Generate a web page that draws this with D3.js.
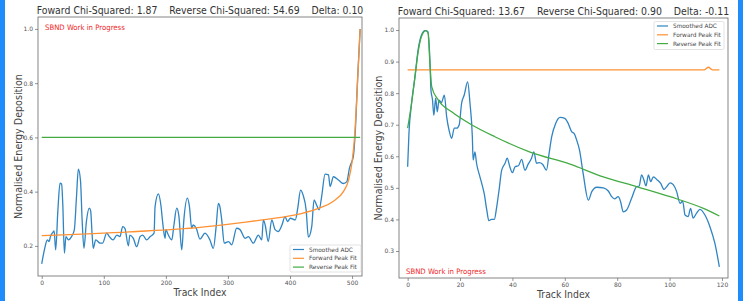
<!DOCTYPE html>
<html>
<head>
<meta charset="utf-8">
<script src="https://cdn.jsdelivr.net/npm/d3@7"></script>
<style>
  body { margin: 0; background: white; }
  text { font-family: "DejaVu Sans", sans-serif; }
</style>
</head>
<body>
<div id="wykres"></div>
<script>

// ---- left panel (long track) ----
var adc_left = [[0,0.134],[5,0.193],[9,0.222],[12,0.216],[14,0.234],[18,0.25],[20,0.255],[22.5,0.185],[26,0.33],[29.5,0.431],[32,0.428],[34,0.35],[36.5,0.173],[39,0.234],[43,0.222],[48,0.234],[52.5,0.259],[56,0.38],[59,0.483],[62.5,0.44],[65,0.3],[68,0.191],[72,0.29],[76.7,0.339],[78.8,0.33],[81,0.25],[83,0.191],[87,0.222],[94,0.21],[98,0.21],[104.7,0.247],[109,0.234],[115,0.222],[121,0.24],[126,0.234],[130.5,0.271],[134,0.265],[139.6,0.2],[142,0.24],[147.6,0.228],[153,0.197],[158.5,0.234],[162.7,0.24],[169,0.222],[174.5,0.234],[181,0.247],[182.6,0.345],[188,0.392],[192,0.35],[195,0.284],[198.7,0.228],[200,0.26],[204,0.24],[209.5,0.222],[213,0.277],[217.5,0.339],[221,0.31],[225.6,0.185],[229,0.296],[234.6,0.376],[238,0.345],[241.6,0.265],[244,0.277],[249,0.265],[255,0.225],[263,0.247],[271,0.222],[276.5,0.191],[281,0.271],[284.6,0.357],[287,0.345],[290,0.296],[294,0.21],[301,0.216],[306,0.204],[314,0.265],[319.5,0.26],[327.6,0.228],[333,0.234],[341,0.21],[349,0.24],[354.5,0.222],[357,0.296],[360,0.277],[365,0.216],[370.6,0.296],[376,0.26],[381,0.253],[387,0.277],[392,0.308],[396,0.29],[400.6,0.302],[408.6,0.296],[412.5,0.339],[417,0.406],[421,0.388],[426,0.333],[429.6,0.232],[435,0.271],[438.8,0.37],[443,0.35],[447,0.333],[451,0.382],[456.5,0.465],[462,0.462],[464.6,0.419],[470,0.455],[478,0.443],[486,0.43],[491.6,0.437],[495.7,0.486],[499.5,0.51],[502,0.529],[505,0.615],[509,0.82],[513,1.0]];
var fwd_left = [[0,0.238],[142,0.252],[255,0.268],[309,0.282],[362,0.298],[416,0.318],[448,0.34],[470,0.365],[486,0.4],[494,0.44],[500,0.51],[504,0.6],[507,0.72],[510,0.86],[513,1.0]];
var rev_left = [[0,0.6],[513,0.6]];
var xticks_left = [0, 100, 200, 300, 400, 500];
var yticks_left = [0.2, 0.4, 0.6, 0.8, 1.0];
var title_left = "Foward Chi-Squared: 1.87    Reverse Chi-Squared: 54.69    Delta: 0.10";

// ---- right panel (short track) ----
var adc_right = [[0,0.567],[0.5,0.673],[1.5,0.768],[2.8,0.852],[4,0.937],[5.3,0.984],[6.6,0.998],[7.7,0.995],[8.5,0.905],[8.9,0.81],[9.5,0.778],[10,0.73],[10.7,0.784],[11.3,0.741],[12,0.778],[12.9,0.77],[14,0.794],[14.9,0.725],[15.8,0.683],[16.8,0.657],[17.8,0.689],[18.7,0.689],[19.7,0.7],[20.6,0.768],[21.6,0.794],[22.9,0.836],[23.8,0.768],[24.7,0.662],[25,0.588],[25.7,0.614],[26.3,0.578],[27.6,0.535],[28.6,0.504],[29.2,0.483],[30.2,0.43],[31,0.396],[32,0.4],[33.1,0.4],[34,0.44],[34.9,0.493],[35.9,0.556],[37.2,0.578],[38,0.594],[39,0.567],[40,0.548],[41,0.567],[42.3,0.57],[43.5,0.59],[44.8,0.556],[46,0.575],[47.3,0.594],[48.2,0.614],[49.2,0.578],[50.2,0.58],[51.5,0.575],[53,0.556],[54,0.609],[55,0.662],[56.5,0.704],[58.2,0.723],[60,0.72],[61.3,0.704],[62.6,0.678],[63.6,0.672],[64.5,0.652],[65.6,0.62],[67,0.546],[69,0.461],[70.3,0.488],[72.2,0.502],[74.7,0.5],[76.6,0.49],[77.9,0.472],[79,0.465],[80.4,0.472],[81.3,0.456],[82.3,0.424],[83.6,0.43],[85.5,0.467],[87.4,0.504],[88.4,0.506],[89.3,0.541],[90.2,0.525],[91,0.506],[91.9,0.541],[92.8,0.52],[93.8,0.535],[95.3,0.525],[96.6,0.514],[97.9,0.495],[98.9,0.504],[100.2,0.516],[101.4,0.51],[102.7,0.488],[104,0.451],[105,0.458],[105.9,0.414],[107.1,0.409],[108,0.435],[109,0.404],[110.3,0.42],[111.6,0.432],[113.5,0.414],[115.4,0.377],[117.3,0.324],[119,0.25]];
var fwd_right = [[0,0.874],[113.3,0.874],[114.8,0.882],[116.3,0.874],[119,0.874]];
var rev_right = [[0,0.689],[1.5,0.768],[2.8,0.852],[4,0.93],[5.3,0.98],[7,0.998],[7.8,0.99],[8.5,0.894],[9.2,0.82],[11.7,0.778],[16.8,0.741],[24.4,0.7],[33.3,0.662],[46.5,0.614],[62,0.575],[74.7,0.535],[87.4,0.504],[100.2,0.472],[112.9,0.435],[119,0.411]];
var xticks_right = [0, 20, 40, 60, 80, 100, 120];
var yticks_right = [0.3, 0.4, 0.5, 0.6, 0.7, 0.8, 0.9, 1.0];
var title_right = "Foward Chi-Squared: 13.67    Reverse Chi-Squared: 0.90    Delta: -0.11";

var legend_names = ["Smoothed ADC", "Forward Peak Fit", "Reverse Peak Fit"];
var colors = ["#2f84c2", "#ff9133", "#43ab43"];

var svg = d3.select("#wykres")
  .append("svg")
  .attr("width", 743)
  .attr("height", 301)
  .style("background", "white");

// blue edges of the slide
svg.append("rect").attr("x", 0).attr("y", 0).attr("width", 5).attr("height", 301).attr("fill", "#1e8cfa");
svg.append("rect").attr("x", 738).attr("y", 0).attr("width", 5).attr("height", 301).attr("fill", "#1e8cfa");

// squeeze a text horizontally so it covers "len" pixels (the source figure is narrower than DejaVu)
function fitText(t, x, y, len, rot) {
  var w = t.node().getComputedTextLength();
  var s = len / w;
  t.attr("x", 0).attr("y", 0)
    .attr("transform", "translate(" + x + "," + y + ")" + (rot ? "rotate(" + rot + ")" : "") + "scale(" + s + ",1)");
}

function panel(p) {
  var g = svg.append("g");

  var xscale = d3.scaleLinear().domain(p.xdom).range([p.left, p.right]);
  var yscale = d3.scaleLinear().domain(p.ydom).range([p.bottom, p.top]);

  var xAxis = g.append("g")
    .attr("transform", "translate(0," + p.bottom + ")")
    .call(d3.axisBottom(xscale).tickValues(p.xticks).tickSize(3).tickPadding(2).tickFormat(d3.format("d")));
  var yAxis = g.append("g")
    .attr("transform", "translate(" + p.left + ",0)")
    .call(d3.axisLeft(yscale).tickValues(p.yticks).tickSize(3).tickPadding(2).tickFormat(d3.format(".1f")));

  [xAxis, yAxis].forEach(function (a) {
    a.select(".domain").remove();
    a.selectAll("line").attr("stroke", "#666").attr("stroke-width", 0.7);
    a.selectAll("text").style("font-size", "6px").attr("fill", "#555");
  });

  var line = d3.line()
    .x(function (d) { return xscale(d[0]) })
    .y(function (d) { return yscale(d[1]) })
    .curve(d3.curveMonotoneX);

  [p.adc, p.fwd, p.rev].forEach(function (s, i) {
    g.append("path")
      .datum(s)
      .attr("fill", "none")
      .attr("stroke", colors[i])
      .attr("stroke-width", 1.3)
      .attr("d", line);
  });

  // frame
  g.append("rect")
    .attr("x", p.left).attr("y", p.top)
    .attr("width", p.right - p.left).attr("height", p.bottom - p.top)
    .attr("fill", "none").attr("stroke", "#666").attr("stroke-width", 0.8);

  var tt = g.append("text")
    .attr("text-anchor", "middle")
    .attr("xml:space", "preserve")
    .style("white-space", "pre")
    .style("font-size", "10.5px").attr("fill", "#333")
    .text(p.title);
  fitText(tt, (p.left + p.right) / 2, p.titleY, p.titleLen);

  var xl = g.append("text")
    .attr("text-anchor", "middle")
    .style("font-size", "11px").attr("fill", "#444")
    .text("Track Index");
  fitText(xl, (p.left + p.right) / 2, p.xlabY, 53);

  var yl = g.append("text")
    .attr("text-anchor", "middle")
    .style("font-size", "10.5px").attr("fill", "#444")
    .text("Normalised Energy Deposition");
  fitText(yl, p.ylabX, (p.top + p.bottom) / 2, 145, -90);

  var sb = g.append("text")
    .style("font-size", "7.5px").attr("fill", "#f02828")
    .text("SBND Work in Progress");
  fitText(sb, p.sbnd[0], p.sbnd[1], 80);

  // legend
  var lg = p.legend;
  g.append("rect")
    .attr("x", lg.x).attr("y", lg.y).attr("width", lg.w).attr("height", lg.h)
    .attr("rx", 1.5).attr("fill", "white").attr("fill-opacity", 0.85)
    .attr("stroke", "#d0d0d0").attr("stroke-width", 0.6);
  legend_names.forEach(function (n, i) {
    var yy = lg.y + 4.5 + i * 8.8;
    g.append("line")
      .attr("x1", lg.x + 3).attr("x2", lg.x + 14)
      .attr("y1", yy).attr("y2", yy)
      .attr("stroke", colors[i]).attr("stroke-width", 1.2);
    var lt = g.append("text")
      .style("font-size", "6px").attr("fill", "#444")
      .text(n);
    fitText(lt, lg.x + 19, yy + 2, i == 0 ? 44 : 48);
  });
}

panel({
  left: 38, right: 362, top: 17, bottom: 276,
  xdom: [-6, 516], ydom: [0.089, 1.044],
  xticks: xticks_left, yticks: yticks_left,
  adc: adc_left, fwd: fwd_left, rev: rev_left,
  title: title_left, titleY: 14, titleLen: 327,
  xlabY: 296, ylabX: 22,
  sbnd: [45, 30],
  legend: { x: 290, y: 245, w: 71, h: 27 }
});

panel({
  left: 399, right: 728, top: 18, bottom: 278,
  xdom: [-3.3, 122.3], ydom: [0.2145, 1.038],
  xticks: xticks_right, yticks: yticks_right,
  adc: adc_right, fwd: fwd_right, rev: rev_right,
  title: title_right, titleY: 15, titleLen: 332,
  xlabY: 298, ylabX: 382,
  sbnd: [406, 274],
  legend: { x: 654, y: 21.5, w: 70, h: 28 }
});

</script>
</body>
</html>
